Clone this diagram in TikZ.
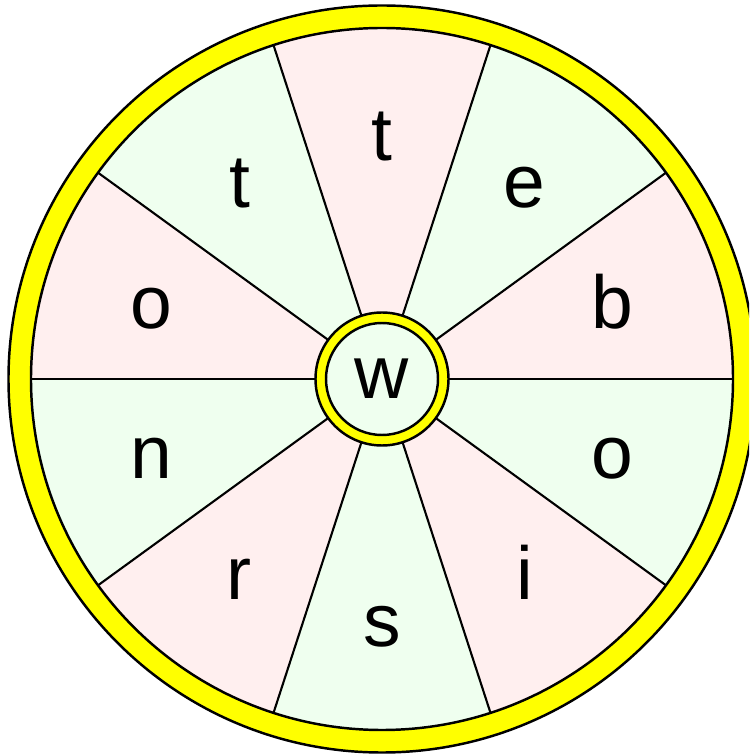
\documentclass[tikz,border=0pt]{standalone}
\usepackage{fontspec}
\setmainfont{Liberation Sans}
\usepackage{xcolor}
\usepackage{tikz}
\definecolor{sectorpink}{HTML}{FFEFEF}
\definecolor{sectorgreen}{HTML}{EFFFEF}
\definecolor{ringyellow}{HTML}{FFFF00}

\begin{document}
\begin{tikzpicture}[line width=1.4pt,
  letter/.style={font=\fontsize{42.7}{50}\selectfont, anchor=base, inner sep=0pt}]
% Page frame
\useasboundingbox (-7.64,-7.50) rectangle (7.34,7.58);
\clip (-7.64,-7.50) rectangle (7.34,7.58);

% Outer ring
\draw[fill=ringyellow] (0,0) circle (7.47);

% Sectors
\foreach \a/\col in {72/sectorpink, 36/sectorgreen, 0/sectorpink, -36/sectorgreen,
  -72/sectorpink, -108/sectorgreen, -144/sectorpink, -180/sectorgreen,
  144/sectorpink, 108/sectorgreen}{
  \fill[\col] (0,0) -- (\a:7.02) arc (\a:\a+36:7.02) -- cycle;
}
\foreach \a in {0,36,...,324}{
  \draw[line width=1.2pt] (0,0) -- (\a:7.02);
}
\draw (0,0) circle (7.02);

% Letters
\foreach \i/\a/\lbl in {1/90/t, 2/54/e, 3/18/b, 4/-18/o, 5/-54/i,
  6/-90/s, 7/-126/r, 8/-162/n, 9/162/o, 10/126/t}{
  \node[letter, yshift=-0.49cm] (let\i) at (\a:4.85) {\lbl};
}

% Hub
\draw[fill=ringyellow] (0,0) circle (1.33);
\draw[fill=sectorgreen] (0,0) circle (1.12);
\node[letter, yshift=-0.40cm] (hub) at (0,0) {w};
\end{tikzpicture}
\end{document}
